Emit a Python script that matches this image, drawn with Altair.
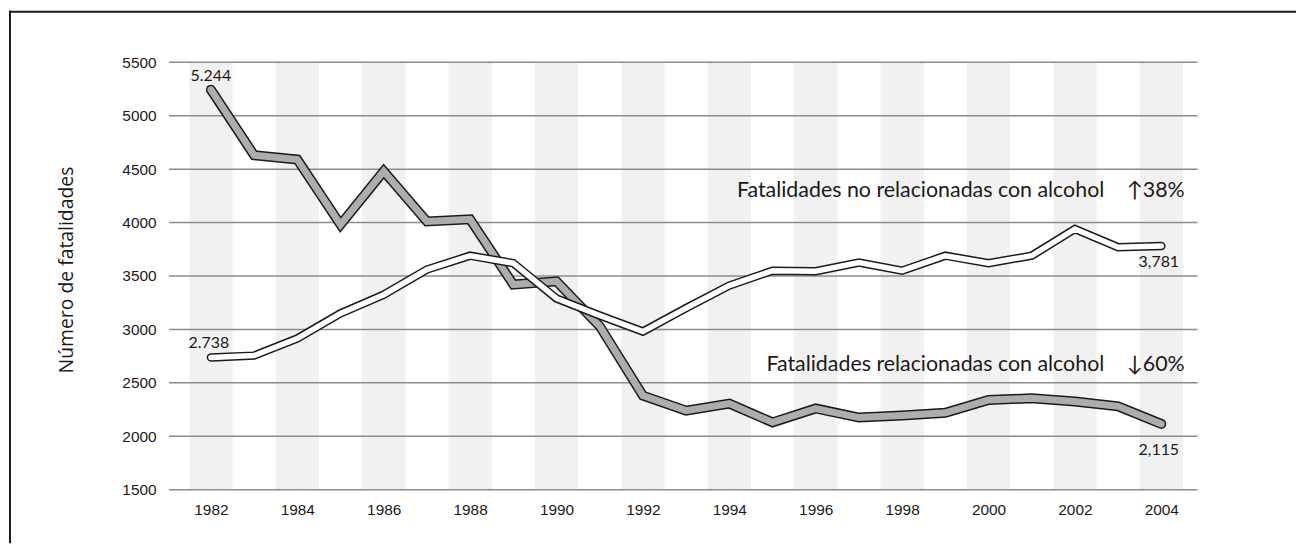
import altair as alt
import pandas as pd

years = list(range(1982, 2005))
alcohol = [5244, 4630, 4590, 3980, 4480, 4010, 4030, 3420, 3450, 3030, 2380, 2240,
           2305, 2130, 2260, 2175, 2195, 2220, 2340, 2355, 2325, 2280, 2115]
non_alcohol = [2738, 2755, 2915, 3150, 3325, 3560, 3690, 3620, 3290, 3130, 2980, 3200,
               3410, 3550, 3545, 3625, 3550, 3690, 3620, 3690, 3940, 3770, 3781]
y_ticks = [1500, 2000, 2500, 3000, 3500, 4000, 4500, 5000, 5500]
x_ticks = list(range(1982, 2005, 2))

ann_text = ["Fatalidades no relacionadas con alcohol", "Fatalidades relacionadas con alcohol"]
ann_pct = ["\u219138%", "\u219360%"]
ann_value = [4235, 2610]
ann_year_end = [2002.68, 2002.68]
ann_year_pct = [2003.2, 2003.2]

df = pd.DataFrame({"year": years, "alcohol": alcohol, "non_alcohol": non_alcohol})
stripes = pd.DataFrame({"start": [y - 0.5 for y in x_ticks], "end": [y + 0.5 for y in x_ticks]})
grid = pd.DataFrame({"v": y_ticks})
ann = pd.DataFrame({"text": ann_text, "pct": ann_pct, "v": ann_value,
                    "xe": ann_year_end, "xp": ann_year_pct})
one = pd.DataFrame({"a": [0]})

W, H = 1035, 430
xs = alt.Scale(domain=[1981.03, 2004.84], nice=False, zero=False)
ys = alt.Scale(domain=[1500, 5500], nice=False, zero=False)

TICK_FONT = "Liberation Sans"
TXT_FONT = "Lato"

stripe_layer = alt.Chart(stripes).mark_rect(color="#f1f1f1").encode(
    x=alt.X("start:Q", scale=xs, title=None,
            axis=alt.Axis(values=x_ticks, format="d", labelPadding=13)),
    x2="end:Q",
    y=alt.Y("a0:Q", scale=ys, title=None,
            axis=alt.Axis(values=y_ticks, format="d", labelPadding=13)),
    y2="a1:Q",
).transform_calculate(a0="1500", a1="5500")

grid_layer = alt.Chart(grid).mark_rule(color="#8c8c8c", strokeWidth=1.5).encode(
    y=alt.Y("v:Q", scale=ys, title=None),
)

def line(field, color, width):
    return alt.Chart(df).mark_line(color=color, strokeWidth=width, strokeCap="round",
                                   strokeJoin="miter").encode(
        x=alt.X("year:Q", scale=xs, title=None),
        y=alt.Y(f"{field}:Q", scale=ys, title=None),
    )

gray_out = line("alcohol", "#1a1a1a", 10)
gray_in = line("alcohol", "#adadb1", 7)
white_out = line("non_alcohol", "#1a1a1a", 8.5)
white_in = line("non_alcohol", "#ffffff", 5.5)

ann_main = alt.Chart(ann).mark_text(font=TXT_FONT, fontSize=21.5, align="right",
                                    baseline="alphabetic", color="#1a1a1a").encode(
    x=alt.X("xe:Q", scale=xs, title=None), y=alt.Y("v:Q", scale=ys, title=None), text="text:N")
ann_p = alt.Chart(ann).mark_text(font=TXT_FONT, fontSize=21.5, align="left",
                                 baseline="alphabetic", color="#1a1a1a").encode(
    x=alt.X("xp:Q", scale=xs, title=None), y=alt.Y("v:Q", scale=ys, title=None), text="pct:N")

def endlabel(year, field, text, dx, dy):
    d = df[df["year"] == year]
    return alt.Chart(d).mark_text(font=TXT_FONT, fontSize=16, align="center",
                                  baseline="alphabetic", color="#1a1a1a", dx=dx, dy=dy).encode(
        x=alt.X("year:Q", scale=xs, title=None),
        y=alt.Y(f"{field}:Q", scale=ys, title=None),
        text=alt.value(text))

lab1 = endlabel(1982, "alcohol", "5.244", 0, -8.5)
lab2 = endlabel(1982, "non_alcohol", "2.738", -2, -9.6)
lab3 = endlabel(2004, "non_alcohol", "3,781", -2.5, 21.6)
lab4 = endlabel(2004, "alcohol", "2,115", -2.5, 31.7)

frame_top = alt.Chart(one).mark_rule(color="#1a1a1a", strokeWidth=2).encode(
    x=alt.value(-161), x2=alt.value(1134), y=alt.value(-51))
frame_left = alt.Chart(one).mark_rule(color="#1a1a1a", strokeWidth=2).encode(
    x=alt.value(-160), y=alt.value(-52), y2=alt.value(484))

ytitle = alt.Chart(one).mark_text(font="Open Sans", fontSize=19.5, angle=270, align="center",
                                  baseline="alphabetic", color="#1a1a1a").encode(
    x=alt.value(-96.7), y=alt.value(209), text=alt.value("Número de fatalidades"))

chart = alt.layer(
    stripe_layer, grid_layer, gray_out, gray_in, white_out, white_in,
    ann_main, ann_p, lab1, lab2, lab3, lab4, frame_top, frame_left, ytitle,
).properties(
    width=W, height=H,
    autosize=alt.AutoSizeParams(type="none"),
    padding={"left": 162, "top": 53, "right": 99, "bottom": 54},
    background="#ffffff",
).configure_view(stroke=None).configure_axis(
    grid=False, domain=False, ticks=False, labelFont=TICK_FONT, labelFontSize=15.5,
    labelColor="#1a1a1a", title=None,
)

chart.save("out.html", embed_options={"renderer": "svg", "actions": False})
